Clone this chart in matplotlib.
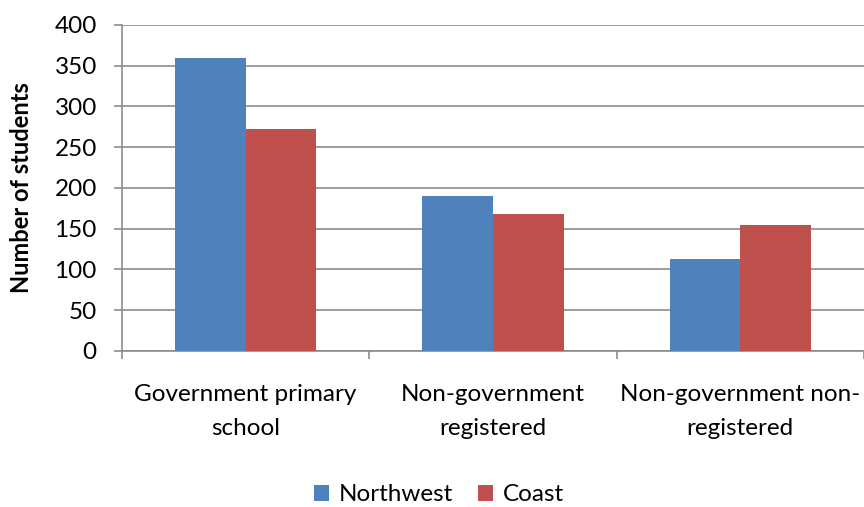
import numpy as np
import matplotlib.pyplot as plt

categories = ["Government primary\nschool", "Non-government\nregistered", "Non-government non-\nregistered"]
northwest = [360, 190, 113]
coast = [273, 168, 155]

plt.rcParams['font.family'] = ['Lato', 'DejaVu Sans']
FS = 17.5

fig = plt.figure(figsize=(8.64, 5.07), dpi=100)
ax = fig.add_axes([0.141, 0.3077, 0.859, 0.643])

x = np.arange(len(categories))
w = 1 / 3.5
ax.bar(x - w / 2, northwest, w, color='#4F81BD', label='Northwest', zorder=3)
ax.bar(x + w / 2, coast, w, color='#C0504D', label='Coast', zorder=3)

ax.set_xlim(-0.5, len(categories) - 0.5)
ax.set_ylim(0, 400)
ax.set_yticks(range(0, 401, 50))
ax.yaxis.grid(True, color='#8c8c8c', linewidth=1.2, zorder=0)

# category labels sit between the tick marks
ax.set_xticks(np.arange(-0.5, len(categories), 1.0))
ax.set_xticklabels([])
ax.set_xticks(x, minor=True)
ax.set_xticklabels(categories, minor=True, fontsize=FS, linespacing=1.75)
ax.tick_params(axis='x', which='minor', length=0, pad=24)
ax.tick_params(axis='x', which='major', length=6, color='#8c8c8c', width=1.2)
ax.tick_params(axis='y', length=6, color='#8c8c8c', width=1.2, labelsize=FS, pad=12)

for s in ['top', 'right']:
    ax.spines[s].set_visible(False)
for s in ['left', 'bottom']:
    ax.spines[s].set_color('#8c8c8c')
    ax.spines[s].set_linewidth(1.2)

fig.text(22 / 864, 1 - 188 / 507, 'Number of students', rotation=90, fontsize=17,
         fontweight='bold', ha='center', va='center')

fig.legend(loc='lower center', bbox_to_anchor=(0.508, -0.04), ncol=2, frameon=False,
           fontsize=FS, handlelength=0.65, handleheight=0.65, columnspacing=1.0, handletextpad=0.4)

fig.savefig('out.png', dpi=100)
